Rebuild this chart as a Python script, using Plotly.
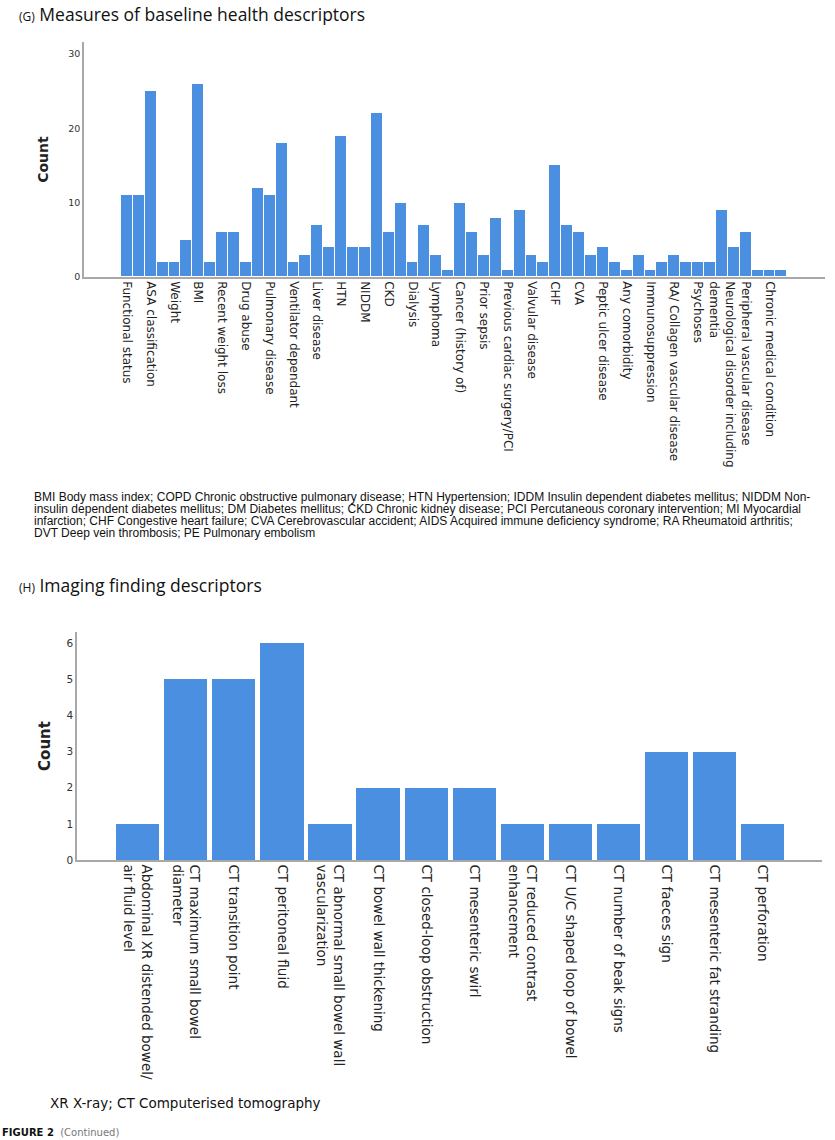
import plotly.graph_objects as go

# (G) baseline health descriptors - only every other category is labelled on the axis
health_categories = [
    "Functional status", "Frailty", "ASA classification", "Height", "Weight", "Obesity",
    "BMI", "Malnutrition", "Recent weight loss", "Smoking", "Drug abuse", "Alcohol abuse",
    "Pulmonary disease", "COPD", "Ventilator dependant", "Dyspnoea", "Liver disease", "Ascites",
    "HTN", "IDDM", "NIDDM", "DM", "CKD", "Renal failure", "Dialysis", "Leukaemia",
    "Lymphoma", "Metastatic cancer", "Cancer (history of)", "Chemotherapy", "Prior sepsis",
    "Steroid use", "Previous cardiac surgery/PCI", "MI", "Valvular disease", "Angina",
    "CHF", "Arrhythmia", "CVA", "TIA", "Peptic ulcer disease", "Bleeding disorder",
    "Any comorbidity", "AIDS", "Immunosuppression", "Transplant",
    "RA/ Collagen vascular disease", "Depression", "Psychoses", "Paraplegia",
    "Neurological disorder including<br>dementia", "DVT", "Peripheral vascular disease", "PE",
    "Chronic medical condition", "Other",
]
health_counts = [
    11, 11, 25, 2, 2, 5, 26, 2, 6, 6, 2, 12, 11, 18, 2, 3, 7, 4, 19, 4, 4, 22, 6, 10,
    2, 7, 3, 1, 10, 6, 3, 8, 1, 9, 3, 2, 15, 7, 6, 3, 4, 2, 1, 3, 1, 2, 3, 2, 2, 2,
    9, 4, 6, 1, 1, 1,
]
health_ticks = health_categories[0::2]
health_yticks = [0, 10, 20, 30]

health_note = [
    "BMI Body mass index; COPD Chronic obstructive pulmonary disease; HTN Hypertension; IDDM Insulin dependent diabetes mellitus; NIDDM Non-",
    "insulin dependent diabetes mellitus; DM Diabetes mellitus; CKD Chronic kidney disease; PCI Percutaneous coronary intervention; MI Myocardial",
    "infarction; CHF Congestive heart failure; CVA Cerebrovascular accident; AIDS Acquired immune deficiency syndrome; RA Rheumatoid arthritis;",
    "DVT Deep vein thrombosis; PE Pulmonary embolism",
]

# (H) imaging findings
imaging_categories = [
    "Abdominal XR distended bowel/<br>air fluid level",
    "CT maximum small bowel<br>diameter",
    "CT transition point",
    "CT peritoneal fluid",
    "CT abnormal small bowel wall<br>vascularization",
    "CT bowel wall thickening",
    "CT closed-loop obstruction",
    "CT mesenteric swirl",
    "CT reduced contrast<br>enhancement",
    "CT U/C shaped loop of bowel",
    "CT number of beak signs",
    "CT faeces sign",
    "CT mesenteric fat stranding",
    "CT perforation",
]
imaging_counts = [1, 5, 5, 6, 1, 2, 2, 2, 1, 1, 1, 3, 3, 1]
imaging_yticks = [0, 1, 2, 3, 4, 5, 6]

BAR = "#4a8fe0"
AXIS = "#a8a8a8"
FONT = "DejaVu Sans"
W, H = 835, 1140


def px_x(p):
    return p / W


def px_y(p):
    return 1 - p / H


fig = go.Figure()
fig.add_trace(go.Bar(
    x=health_categories, y=health_counts, xaxis="x", yaxis="y",
    marker=dict(color=BAR, line=dict(color="white", width=1)), showlegend=False,
))
fig.add_trace(go.Bar(
    x=imaging_categories, y=imaging_counts, xaxis="x2", yaxis="y2", width=0.9,
    marker=dict(color=BAR, line=dict(width=0)), showlegend=False,
))

common_x = dict(type="category", showline=True, linecolor=AXIS, linewidth=1.5, automargin=False,
                showgrid=False, ticks="", tickangle=90, zeroline=False)
common_y = dict(showline=True, linecolor=AXIS, linewidth=1.5, showgrid=False, automargin=False,
                zeroline=False, ticks="")

fig.update_layout(
    width=W, height=H,
    margin=dict(l=0, r=0, t=0, b=0),
    paper_bgcolor="white", plot_bgcolor="white",
    bargap=0.0,
    font=dict(family=FONT, color="#222"),
    xaxis=dict(common_x, domain=[px_x(84), px_x(825)], anchor="y",
               range=[-3.6, 58.66], tickvals=health_ticks, ticktext=health_ticks,
               tickfont=dict(family=FONT, size=12, color="#222")),
    yaxis=dict(common_y, domain=[px_y(277), px_y(42)], anchor="x",
               range=[0, 31.6], tickvals=health_yticks, tickfont=dict(size=9.5, family=FONT, color="#333"),
               title=dict(text="<b>Count</b>", font=dict(size=14, family=FONT), standoff=16)),
    xaxis2=dict(common_x, domain=[px_x(77), px_x(822)], anchor="y2",
                range=[-1.26, 14.23],
                tickfont=dict(family=FONT, size=13.5, color="#222")),
    yaxis2=dict(common_y, domain=[px_y(860), px_y(632)], anchor="x2",
                range=[0, 6.31], tickvals=imaging_yticks, tickfont=dict(size=10.5, family=FONT, color="#333"),
                title=dict(text="<b>Count</b>", font=dict(size=15, family=FONT), standoff=12)),
)

notes = [
    dict(text="<span style='font-size:12px'>(G)</span> Measures of baseline health descriptors",
         x=px_x(17), y=px_y(0), yanchor="top", font=dict(size=17.5, family="Open Sans", color="#111")),
    dict(text="<span style='font-size:12px'>(H)</span> Imaging finding descriptors",
         x=px_x(17), y=px_y(585), yanchor="middle", font=dict(size=17.5, family="Open Sans", color="#111")),
    dict(text="XR X-ray; CT Computerised tomography",
         x=px_x(48), y=px_y(1103), yanchor="middle", font=dict(size=13.5, family=FONT, color="#111")),
    dict(text="<b>FIGURE 2</b>  <span style='color:#777'>(Continued)</span>",
         x=px_x(0), y=px_y(1140), yanchor="bottom", font=dict(size=10, family=FONT, color="#111")),
]
# abbreviation footnote, one annotation per printed line to keep the tight line spacing
for i, line in enumerate(health_note):
    notes.append(dict(text=line, x=px_x(32), y=px_y(497 + 12 * i), yanchor="middle",
                      font=dict(size=12, family="Liberation Sans", color="#111")))

for n in notes:
    fig.add_annotation(xref="paper", yref="paper", xanchor="left", showarrow=False, **n)

# drop the default 8px body margin so the figure fills the window exactly
fig.write_html("out.html", config={"displayModeBar": False},
               post_script="document.body.style.margin='0';")
